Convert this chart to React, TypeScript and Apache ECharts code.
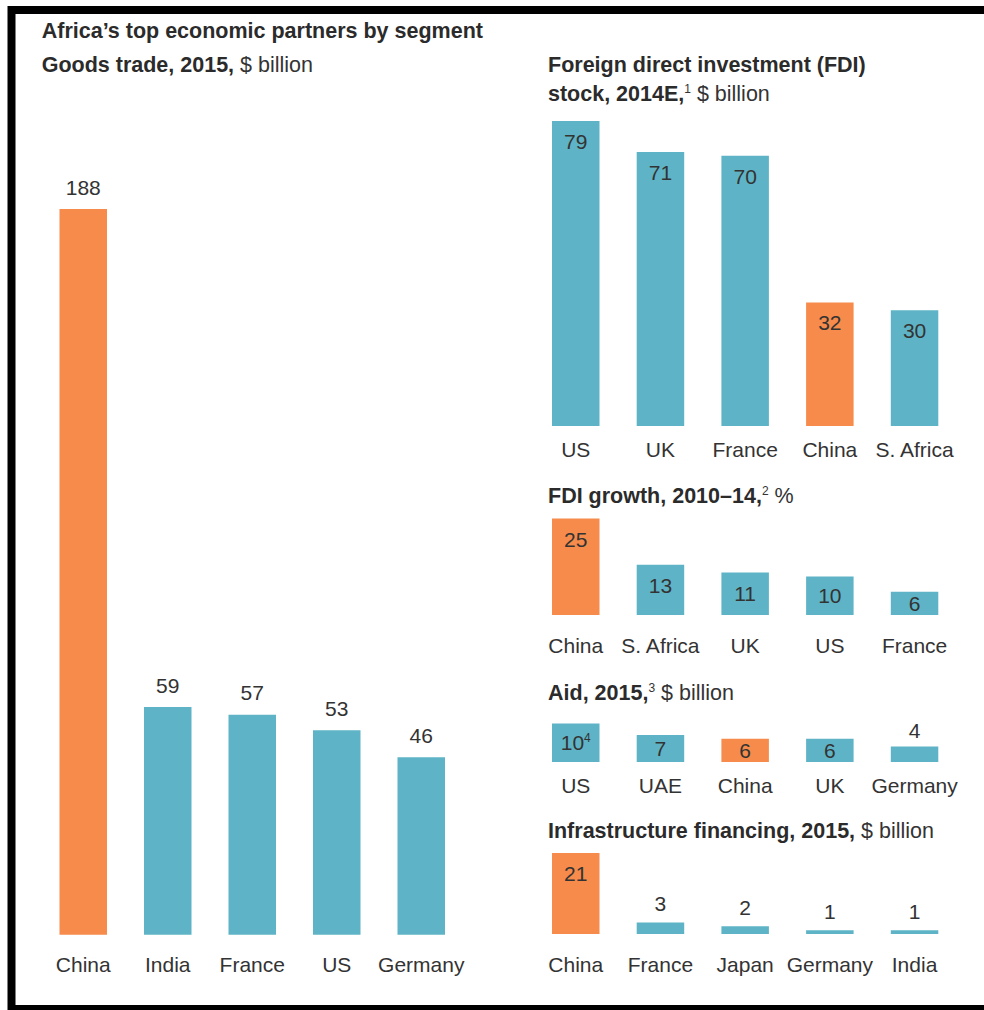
import React, { useEffect, useRef } from "react";
import * as echarts from "echarts";

// ---- data ----
const goodsCats = ["China", "India", "France", "US", "Germany"];
const goodsVals = [188, 59, 57, 53, 46];

const fdiStockCats = ["US", "UK", "France", "China", "S. Africa"];
const fdiStockVals = [79, 71, 70, 32, 30];

const fdiGrowthCats = ["China", "S. Africa", "UK", "US", "France"];
const fdiGrowthVals = [25, 13, 11, 10, 6];

const aidCats = ["US", "UAE", "China", "UK", "Germany"];
const aidVals = [10, 7, 6, 6, 4];
const aidNotes = ["4", "", "", "", ""];

const infraCats = ["China", "France", "Japan", "Germany", "India"];
const infraVals = [21, 3, 2, 1, 1];

// ---- style ----
const ORANGE = "#F68B4B";
const TEAL = "#5EB4C6";
const TEXT = "#333333";
const FONT = "'Liberation Sans', Arial, Helvetica, sans-serif";
const UNIT = 3.86; // px per unit, common to all panels
const FS = 21;
const TFS = 21.5;

type Panel = {
  cats: string[];
  vals: number[];
  notes?: string[];
  left: number;
  width: number;
  baseline: number;
  margin: number;
  topDist: number;
  outside?: boolean;
};

const panels: Panel[] = [
  { cats: goodsCats, vals: goodsVals, left: 41, width: 422.5, baseline: 934.8, margin: 19.5, topDist: 11.5, outside: true },
  { cats: fdiStockCats, vals: fdiStockVals, left: 533.4, width: 423.5, baseline: 426, margin: 12.5, topDist: 8 },
  { cats: fdiGrowthCats, vals: fdiGrowthVals, left: 533.4, width: 423.5, baseline: 615, margin: 19.5, topDist: 8 },
  { cats: aidCats, vals: aidVals, notes: aidNotes, left: 533.4, width: 423.5, baseline: 762, margin: 12.5, topDist: 6 },
  { cats: infraCats, vals: infraVals, left: 533.4, width: 423.5, baseline: 934, margin: 19.5, topDist: 8 },
];

function labelFor(v: number, p: Panel) {
  const h = v * UNIT;
  if (p.outside) return { position: "top", distance: p.topDist };
  if (h >= 40) return { position: "insideTop", distance: 10 };
  if (h >= 20) return { position: "inside" };
  return { position: "top", distance: p.topDist };
}

function titleText(x: number, y: number, text: string) {
  return {
    type: "text",
    x,
    y,
    silent: true,
    style: {
      text,
      fill: TEXT,
      fontFamily: FONT,
      fontSize: TFS,
      align: "left",
      verticalAlign: "middle",
      textAlign: "left",
      textVerticalAlign: "middle",
      rich: {
        b: { fontWeight: "bold", fontSize: TFS, fontFamily: FONT, fill: "#2b2b2b", color: "#2b2b2b" },
        n: { fontWeight: "normal", fontSize: TFS, fontFamily: FONT, fill: TEXT, color: TEXT },
        s: { fontSize: 12, fontFamily: FONT, fill: TEXT, color: TEXT, verticalAlign: "top" },
      },
    },
  };
}

export default function App() {
  const ref = useRef<HTMLDivElement>(null);

  useEffect(() => {
    if (!ref.current) return;
    const chart = echarts.init(ref.current, undefined, { renderer: "svg" });

    const grids: any[] = [];
    const xAxes: any[] = [];
    const yAxes: any[] = [];
    const series: any[] = [];

    panels.forEach((p, i) => {
      const maxV = Math.max(...p.vals);
      const h = maxV * UNIT;
      grids.push({ left: p.left, width: p.width, top: p.baseline - h, height: h, containLabel: false });
      xAxes.push({
        type: "category",
        gridIndex: i,
        data: p.cats,
        axisLine: { show: false },
        axisTick: { show: false },
        splitLine: { show: false },
        axisLabel: { interval: 0, color: TEXT, fontSize: FS, fontFamily: FONT, margin: p.margin },
      });
      yAxes.push({ type: "value", gridIndex: i, min: 0, max: maxV, show: false });
      series.push({
        type: "bar",
        xAxisIndex: i,
        yAxisIndex: i,
        barWidth: 47.5,
        silent: true,
        label: {
          show: true,
          color: TEXT,
          fontSize: FS,
          fontFamily: FONT,
          formatter: (prm: any) => {
            const note = p.notes ? p.notes[prm.dataIndex] : "";
            return note ? `{v|${prm.value}}{s|${note}}` : `{v|${prm.value}}`;
          },
          rich: {
            v: { fontSize: FS, fontFamily: FONT, color: TEXT },
            s: { fontSize: 12, fontFamily: FONT, color: TEXT, verticalAlign: "top" },
          },
        },
        data: p.vals.map((v, j) => ({
          value: v,
          itemStyle: { color: p.cats[j] === "China" ? ORANGE : TEAL },
          label: labelFor(v, p),
        })),
      });
    });

    chart.setOption({
      animation: false,
      backgroundColor: "#ffffff",
      grid: grids,
      xAxis: xAxes,
      yAxis: yAxes,
      series,
      graphic: [
        {
          type: "rect",
          silent: true,
          shape: { x: 11.5, y: 10, width: 1000, height: 999 },
          style: { fill: "none", stroke: "#000", lineWidth: 8 },
        },
        titleText(41.7, 31.3, "{b|Africa\u2019s top economic partners by segment}"),
        titleText(41.7, 65, "{b|Goods trade, 2015,}{n| $ billion}"),
        titleText(548, 65, "{b|Foreign direct investment (FDI)}"),
        titleText(548, 94, "{b|stock, 2014E,}{s|1}{n| $ billion}"),
        titleText(548, 495.5, "{b|FDI growth, 2010\u201314,}{s|2}{n| %}"),
        titleText(548, 692.5, "{b|Aid, 2015,}{s|3}{n| $ billion}"),
        titleText(548, 831, "{b|Infrastructure financing, 2015,}{n| $ billion}"),
      ],
    });

    return () => chart.dispose();
  }, []);

  return (
    <div
      ref={ref}
      style={{ position: "absolute", left: 0, top: 0, width: 984, height: 1010, background: "#fff" }}
    />
  );
}
